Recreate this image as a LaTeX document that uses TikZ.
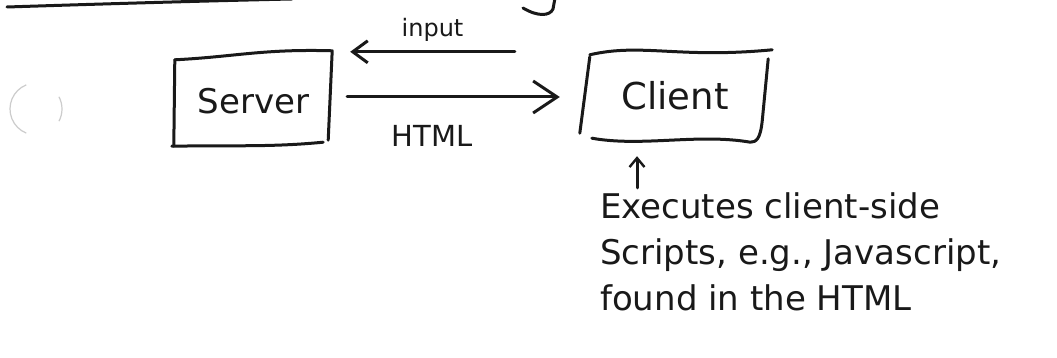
\documentclass[tikz,border=0pt]{standalone}
\usepackage{fontspec}
\setmainfont{DejaVu Sans}
\usepackage{xcolor}
\usetikzlibrary{calc,positioning,arrows.meta}

\tikzset{
  pen/.style={draw=inkColor,line width=3pt,line cap=round,line join=round},
  bigtip/.style={-{Straight Barb[length=24pt,width=32pt,line width=3pt]}},
  tip/.style={-{Straight Barb[length=15pt,width=22pt,line width=3pt]}},
  smalltip/.style={-{Straight Barb[length=9pt,width=15pt,line width=2.4pt]}},
  boxlabel/.style={text=inkColor,font=\fontsize{34}{40}\selectfont,inner sep=0pt,
    minimum width=157pt,minimum height=88pt},
  lbl/.style={text=inkColor,inner sep=0pt},
  note/.style={text=inkColor,font=\fontsize{34}{46}\selectfont,align=left,inner sep=0pt}
}

\begin{document}
\begin{tikzpicture}[x=1pt,y=1pt]
\definecolor{inkColor}{RGB}{25,25,25}
\definecolor{fillColor}{RGB}{255,255,255}
\path[use as bounding box,fill=fillColor] (0,0) rectangle (1057,358);

% pieces of strokes cut at the edge of the page
\path[pen] (7,351) .. controls (100,354) and (200,357) .. (292,359);
\path[pen] (555,360) -- (553,349) .. controls (550,342) and (538,341) .. (523,350);
\path[draw=inkColor!22,line width=1.2pt] (36,249) ++(112:26) arc[start angle=112,end angle=248,radius=26];
\path[draw=inkColor!22,line width=1.2pt] (36,249) ++(-28:26) arc[start angle=-28,end angle=28,radius=26];

% the two boxes
\node[boxlabel] (server) at (253.5,257) {Server};
\node[boxlabel,minimum width=186pt,minimum height=90pt,font=\fontsize{37}{42}\selectfont] (client) at (675,262) {Client};

\path[pen] ([shift={(0,-3)}]server.north west) .. controls ([shift={(60,0)}]server.north west) and ([shift={(-70,8)}]server.north east) .. ([shift={(0,6)}]server.north east)
  -- ([shift={(-4,5)}]server.south east);
\path[pen] ([shift={(-9,3)}]server.south east)
  .. controls ([shift={(-60,-2)}]server.south east) and ([shift={(60,0)}]server.south west) .. ([shift={(-3,-1)}]server.south west);
\path[pen] ([shift={(0,-3)}]server.north west) -- ([shift={(-1,-1)}]server.south west);

\path[pen] ([shift={(8,-4)}]client.north west) .. controls ([shift={(60,8)}]client.north west) and ([shift={(-90,-8)}]client.north east) .. ([shift={(4,1)}]client.north east);
\path[pen] ([shift={(0,-8)}]client.north east) -- ([shift={(-6,20)}]client.south east)
  .. controls ([shift={(-8,2)}]client.south east) and ([shift={(-12,-1)}]client.south east) .. ([shift={(-18,-1)}]client.south east)
  .. controls ([shift={(-70,8)}]client.south east) and ([shift={(60,-6)}]client.south west) .. ([shift={(10,3)}]client.south west);
\path[pen] ([shift={(8,-6)}]client.north west) -- ([shift={(-2,8)}]client.south west);

% messages between them
\draw[pen,tip] ([shift={(-67,-1)}]client.north west) -- node[lbl,above=9pt,font=\fontsize{24}{28}\selectfont] (input) {input} ([shift={(18,5)}]server.north east);
\draw[pen,bigtip] ([shift={(15,4)}]server.east) -- node[lbl,below=27pt,pos=0.4,font=\fontsize{29}{32}\selectfont] (html) {HTML} ([shift={(-22,-1)}]client.west);

% note under the client
\node[note,anchor=north west] (note) at (600,166) {Executes client-side\\Scripts, e.g., Javascript,\\found in the HTML};
\coordinate (clientfoot) at ([shift={(-38,-15)}]client.south);
\draw[pen,smalltip] ([shift={(37,4)}]note.north west) -- (clientfoot);
\end{tikzpicture}
\end{document}
